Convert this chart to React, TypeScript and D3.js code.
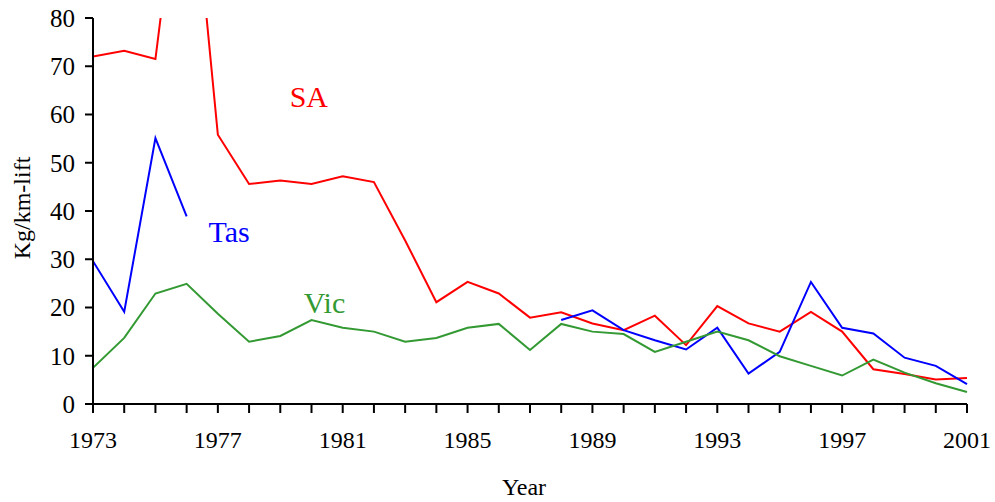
import { useEffect, useRef } from 'react'
import * as d3 from 'd3'

const years = d3.range(1973, 2002)

const saValues = [
  72.0, 73.2, 71.5, 123, 55.8, 45.6, 46.3, 45.6, 47.2, 46.0,
  33.9, 21.1, 25.3, 22.9, 17.9, 19.0, 16.7, 15.3, 18.3, 12.2,
  20.3, 16.7, 15.0, 19.1, 15.0, 7.2, 6.2, 5.1, 5.4,
]

// Tas has no data for 1977-1987
const tasValues: (number | null)[] = [
  29.6, 19.1, 55.1, 38.9, null, null, null, null, null, null,
  null, null, null, null, null, 17.4, 19.4, 15.3, 13.2, 11.3,
  15.8, 6.3, 10.8, 25.3, 15.8, 14.6, 9.6, 7.9, 4.1,
]

const vicValues = [
  7.5, 13.7, 22.9, 24.9, 18.7, 12.9, 14.1, 17.4, 15.8, 15.0,
  12.9, 13.7, 15.8, 16.6, 11.2, 16.6, 15.0, 14.5, 10.8, 12.9,
  15.0, 13.2, 9.9, 7.9, 5.9, 9.2, 6.5, 4.3, 2.5,
]

const yTicks = [0, 10, 20, 30, 40, 50, 60, 70, 80]
const xLabelYears = [1973, 1977, 1981, 1985, 1989, 1993, 1997, 2001]

const series = [
  { name: 'SA', values: saValues as (number | null)[], color: '#ff0000', labelYear: 1979.3, labelValue: 61.5 },
  { name: 'Tas', values: tasValues, color: '#0000ff', labelYear: 1976.7, labelValue: 33.5 },
  { name: 'Vic', values: vicValues as (number | null)[], color: '#339933', labelYear: 1979.75, labelValue: 18.9 },
]

const FONT = 'Liberation Serif, Times New Roman, DejaVu Serif, serif'

export default function App() {
  const svgRef = useRef<SVGSVGElement>(null)

  useEffect(() => {
    if (!svgRef.current) return
    const svg = d3.select(svgRef.current)
    svg.selectAll('*').remove()

    const margin = { top: 18, right: 28, bottom: 98, left: 93 }
    const totalW = 995
    const totalH = 502
    const width = totalW - margin.left - margin.right
    const height = totalH - margin.top - margin.bottom

    const xScale = d3.scaleLinear().domain([1973, 2001]).range([0, width])
    const yScale = d3.scaleLinear().domain([0, 80]).range([height, 0])

    svg.append('defs').append('clipPath').attr('id', 'plot-clip')
      .append('rect')
      .attr('x', 0).attr('y', 0)
      .attr('width', width + 2).attr('height', height)

    const g = svg.append('g')
      .attr('transform', `translate(${margin.left},${margin.top})`)
      .attr('font-family', FONT)

    // Lines
    const lines = g.append('g').attr('clip-path', 'url(#plot-clip)')
    series.forEach(s => {
      const line = d3.line<number | null>()
        .defined(d => d !== null)
        .x((_, i) => xScale(years[i]))
        .y(d => yScale(d as number))
      lines.append('path')
        .datum(s.values)
        .attr('fill', 'none')
        .attr('stroke', s.color)
        .attr('stroke-width', 2)
        .attr('d', line)
    })

    // Series labels
    series.forEach(s => {
      g.append('text')
        .attr('x', xScale(s.labelYear))
        .attr('y', yScale(s.labelValue))
        .attr('font-size', 30)
        .attr('fill', s.color)
        .text(s.name)
    })

    // Y axis
    const yAxis = g.append('g')
    yAxis.append('line')
      .attr('x1', 0).attr('x2', 0)
      .attr('y1', 0).attr('y2', height)
      .attr('stroke', '#000').attr('stroke-width', 2)
    yTicks.forEach(t => {
      yAxis.append('line')
        .attr('x1', -8).attr('x2', 0)
        .attr('y1', yScale(t)).attr('y2', yScale(t))
        .attr('stroke', '#000').attr('stroke-width', 2)
      yAxis.append('text')
        .attr('x', -18)
        .attr('y', yScale(t))
        .attr('dy', '0.35em')
        .attr('text-anchor', 'end')
        .attr('font-size', 25)
        .text(t)
    })

    // X axis
    const xAxis = g.append('g').attr('transform', `translate(0,${height})`)
    xAxis.append('line')
      .attr('x1', 0).attr('x2', width)
      .attr('y1', 0).attr('y2', 0)
      .attr('stroke', '#000').attr('stroke-width', 2)
    years.forEach(yr => {
      xAxis.append('line')
        .attr('x1', xScale(yr)).attr('x2', xScale(yr))
        .attr('y1', 0).attr('y2', 9)
        .attr('stroke', '#000').attr('stroke-width', 2)
    })
    xLabelYears.forEach(yr => {
      xAxis.append('text')
        .attr('x', xScale(yr))
        .attr('y', 44)
        .attr('text-anchor', 'middle')
        .attr('font-size', 24)
        .text(yr)
    })

    // Axis titles
    g.append('text')
      .attr('x', width / 2 - 6)
      .attr('y', height + 91)
      .attr('text-anchor', 'middle')
      .attr('font-size', 24)
      .text('Year')

    g.append('text')
      .attr('transform', `translate(${30 - margin.left},${208 - margin.top}) rotate(-90)`)
      .attr('text-anchor', 'middle')
      .attr('font-size', 24)
      .text('Kg/km-lift')
  }, [])

  return (
    <div style={{ position: 'absolute', left: 0, top: 0 }}>
      <svg ref={svgRef} width={995} height={502} style={{ display: 'block', background: '#fff' }}></svg>
    </div>
  )
}
